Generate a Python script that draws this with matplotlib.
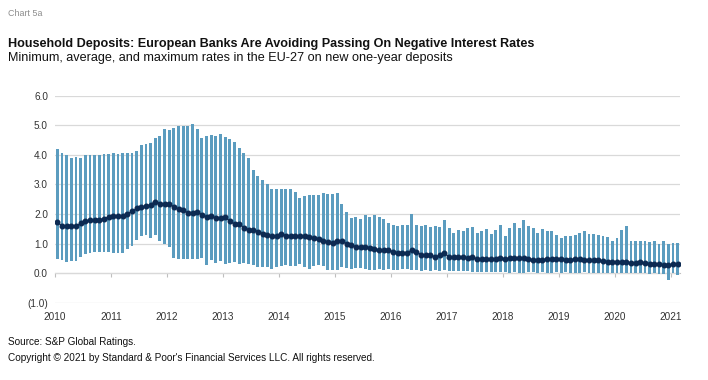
import numpy as np
import matplotlib
matplotlib.use("Agg")
import matplotlib.pyplot as plt
from matplotlib.ticker import FuncFormatter

plt.rcParams["font.family"] = ["Liberation Sans", "DejaVu Sans"]

# monthly data, Jan 2010 - Feb 2021 (%)
years = [str(y) for y in range(2010, 2022)]

max_rate = [
    4.20, 4.05, 4.01, 3.91, 3.93, 3.91, 3.98, 3.99, 4.00, 4.01, 4.02, 4.03,
    4.07, 4.03, 4.05, 4.05, 4.07, 4.14, 4.32, 4.35, 4.41, 4.58, 4.63, 4.89,
    4.84, 4.92, 4.97, 4.99, 4.97, 5.05, 4.86, 4.58, 4.63, 4.67, 4.63, 4.72,
    4.60, 4.55, 4.42, 4.22, 4.05, 3.90, 3.50, 3.30, 3.15, 3.00, 2.85, 2.85,
    2.85, 2.85, 2.85, 2.75, 2.55, 2.60, 2.65, 2.65, 2.65, 2.70, 2.66, 2.68,
    2.72, 2.35, 2.07, 1.86, 1.89, 1.84, 1.98, 1.89, 1.95, 1.89, 1.84, 1.69,
    1.62, 1.58, 1.62, 1.63, 2.00, 1.62, 1.58, 1.63, 1.55, 1.58, 1.55, 1.80,
    1.54, 1.37, 1.46, 1.41, 1.54, 1.56, 1.37, 1.43, 1.49, 1.33, 1.46, 1.63,
    1.26, 1.54, 1.71, 1.54, 1.78, 1.60, 1.52, 1.37, 1.50, 1.44, 1.41, 1.30,
    1.18, 1.26, 1.27, 1.30, 1.37, 1.43, 1.33, 1.33, 1.30, 1.26, 1.21, 1.09,
    1.18, 1.46, 1.60, 1.10, 1.10, 1.09, 1.07, 1.04, 1.09, 0.99, 1.07, 0.98,
    1.01, 1.01,
]

avg_rate = [
    1.72, 1.60, 1.59, 1.60, 1.58, 1.69, 1.75, 1.79, 1.78, 1.81, 1.84, 1.90,
    1.94, 1.94, 1.92, 2.01, 2.09, 2.19, 2.24, 2.26, 2.32, 2.42, 2.35, 2.35,
    2.35, 2.23, 2.17, 2.12, 2.03, 2.03, 2.06, 1.98, 1.90, 1.94, 1.85, 1.86,
    1.89, 1.75, 1.66, 1.66, 1.54, 1.47, 1.47, 1.40, 1.34, 1.30, 1.26, 1.24,
    1.33, 1.27, 1.26, 1.27, 1.24, 1.24, 1.21, 1.18, 1.17, 1.07, 1.05, 1.03,
    1.09, 1.07, 1.00, 0.96, 0.89, 0.87, 0.88, 0.86, 0.81, 0.78, 0.78, 0.77,
    0.73, 0.68, 0.68, 0.68, 0.79, 0.73, 0.62, 0.61, 0.60, 0.56, 0.60, 0.67,
    0.55, 0.53, 0.54, 0.53, 0.51, 0.53, 0.48, 0.47, 0.47, 0.47, 0.48, 0.51,
    0.48, 0.51, 0.51, 0.51, 0.52, 0.48, 0.46, 0.46, 0.46, 0.47, 0.47, 0.47,
    0.48, 0.46, 0.46, 0.47, 0.48, 0.46, 0.45, 0.43, 0.43, 0.41, 0.39, 0.38,
    0.38, 0.38, 0.37, 0.34, 0.35, 0.37, 0.33, 0.32, 0.32, 0.30, 0.28, 0.26,
    0.30, 0.30,
]

min_rate = [
    0.47, 0.43, 0.36, 0.40, 0.40, 0.56, 0.66, 0.68, 0.70, 0.71, 0.73, 0.72,
    0.68, 0.67, 0.68, 0.81, 0.93, 1.13, 1.24, 1.30, 1.19, 1.30, 1.07, 1.00,
    0.90, 0.52, 0.47, 0.47, 0.47, 0.47, 0.47, 0.50, 0.28, 0.45, 0.34, 0.40,
    0.32, 0.35, 0.38, 0.30, 0.33, 0.30, 0.28, 0.22, 0.20, 0.20, 0.15, 0.20,
    0.25, 0.28, 0.25, 0.25, 0.30, 0.20, 0.15, 0.25, 0.28, 0.25, 0.12, 0.12,
    0.12, 0.20, 0.17, 0.14, 0.17, 0.19, 0.14, 0.12, 0.12, 0.14, 0.12, 0.14,
    0.12, 0.12, 0.14, 0.14, 0.12, 0.10, 0.08, 0.10, 0.08, 0.09, 0.07, 0.10,
    0.06, 0.08, 0.07, 0.06, 0.08, 0.05, 0.04, 0.03, 0.04, 0.03, 0.03, 0.05,
    0.03, 0.02, 0.03, 0.02, 0.02, 0.03, 0.03, 0.02, 0.03, 0.02, 0.02, 0.03,
    0.02, 0.03, 0.02, 0.02, 0.02, 0.03, 0.02, 0.01, 0.02, 0.01, 0.01, 0.01,
    0.00, 0.01, 0.00, 0.00, -0.01, 0.00, -0.01, -0.02, -0.01, -0.02, -0.02, -0.22,
    0.00, -0.05,
]

bar_color = "#5b9cbf"
avg_color = "#0c2a52"
text_color = "#333333"

fig = plt.figure(figsize=(7.08, 3.8), dpi=100)
ax = fig.add_axes([55 / 708, (380 - 302.7) / 380, 625 / 708, (302.7 - 95.7) / 380])

x = np.arange(len(max_rate)) + 0.5
lo = np.array(min_rate)
hi = np.array(max_rate)
ax.bar(x, hi - lo, bottom=lo, width=0.62, color=bar_color, zorder=2)
ax.plot(x, avg_rate, color=avg_color, marker="o", ms=3.3, lw=0.9, zorder=3)

ax.set_xlim(0, 134)
ax.set_ylim(-1, 6)
ax.set_yticks(range(-1, 7))
ax.yaxis.set_major_formatter(FuncFormatter(lambda v, p: f"({abs(v):.1f})" if v < 0 else f"{v:.1f}"))
ax.grid(axis="y", color="#d9d9d9", lw=0.9, zorder=0)
for s in ["top", "right", "left"]:
    ax.spines[s].set_visible(False)
ax.spines["bottom"].set_position(("data", 0))
ax.spines["bottom"].set_color("#bfbfbf")
ax.spines["bottom"].set_zorder(1)

ax.set_xticks(np.arange(0, 133, 12))
ax.set_xticklabels(years)
ax.tick_params(axis="x", length=3, color="#bfbfbf", pad=25, labelsize=7.2, labelcolor=text_color)
ax.tick_params(axis="y", length=0, pad=5, labelsize=7.2, labelcolor=text_color)

fig.text(8 / 708, 1 - 14 / 380, "Chart 5a", fontsize=6.4, color="#8c8c8c", va="center")
fig.text(8 / 708, 1 - 44 / 380, "Household Deposits: European Banks Are Avoiding Passing On Negative Interest Rates",
         fontsize=9.1, fontweight="bold", color="#111111", va="center")
fig.text(8 / 708, 1 - 58 / 380, "Minimum, average, and maximum rates in the EU-27 on new one-year deposits",
         fontsize=9.1, color="#111111", va="center")
fig.text(8 / 708, 1 - 342 / 380, "Source: S&P Global Ratings.", fontsize=7.2, color="#111111", va="center")
fig.text(8 / 708, 1 - 358 / 380, "Copyright \u00a9 2021 by Standard & Poor's Financial Services LLC. All rights reserved.",
         fontsize=7.2, color="#111111", va="center")

fig.savefig("out.png", dpi=100)
